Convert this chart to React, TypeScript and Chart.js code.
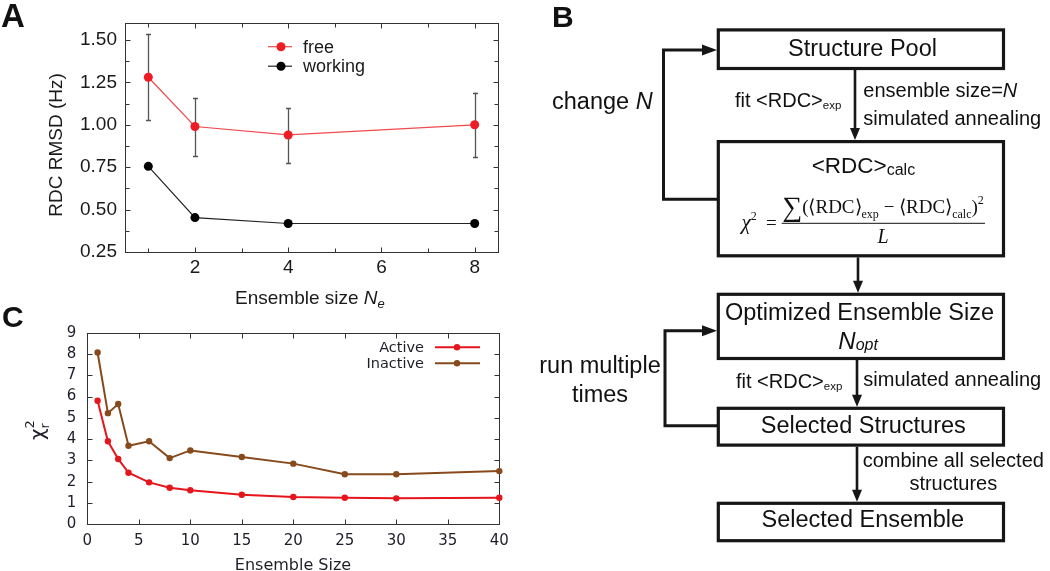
import React, { useEffect, useRef } from "react";
import { Chart, registerables } from "chart.js";

Chart.register(...registerables);

// ---------------- Panel A data ----------------
const ensembleSizeA = [1, 2, 4, 8];
const freeRmsd = [1.28, 0.99, 0.94, 1.0];
const freeErrLow = [1.03, 0.815, 0.775, 0.81];
const freeErrHigh = [1.535, 1.155, 1.1, 1.19];
const workingRmsd = [0.755, 0.453, 0.418, 0.418];
const xTicksA = [2, 4, 6, 8];
const xMinorA = [1, 3, 5, 7];
const yTicksA = [0.25, 0.5, 0.75, 1.0, 1.25, 1.5];
const yMinorA = [0.375, 0.625, 0.875, 1.125, 1.375];

// ---------------- Panel C data ----------------
const ensembleSizeC = [1, 2, 3, 4, 6, 8, 10, 15, 20, 25, 30, 40];
const activeChi2 = [5.8, 3.9, 3.07, 2.42, 1.97, 1.72, 1.6, 1.39, 1.28, 1.25, 1.22, 1.25];
const inactiveChi2 = [8.07, 5.22, 5.65, 3.69, 3.9, 3.11, 3.47, 3.16, 2.85, 2.35, 2.35, 2.5];
const xTicksC = [0, 5, 10, 15, 20, 25, 30, 35, 40];
const yTicksC = [0, 1, 2, 3, 4, 5, 6, 7, 8, 9];

const SANS = "'Liberation Sans', Arial, Helvetica, sans-serif";
const SERIF = "'Liberation Serif', 'Times New Roman', serif";
const DV = "'DejaVu Sans', Verdana, sans-serif";
const INK = "#161616";

const snap = (v: number) => Math.round(v) + 0.5;

const frameTicks = {
  id: "frameTicks",
  beforeDatasetsDraw(chart: any, _a: any, o: any) {
    if (!o || !o.xMajor) return;
    const { ctx, chartArea: ca, scales } = chart;
    const xs = scales.x, ys = scales.y;
    const l = snap(ca.left), r = snap(ca.right), t = snap(ca.top), b = snap(ca.bottom);
    ctx.save();
    ctx.strokeStyle = o.color;
    ctx.lineWidth = o.lineWidth;
    ctx.strokeRect(l, t, r - l, b - t);
    const tx = (vals: number[], len: number) => {
      for (const v of vals) {
        const p = snap(xs.getPixelForValue(v));
        ctx.beginPath();
        ctx.moveTo(p, b); ctx.lineTo(p, b - len);
        ctx.moveTo(p, t); ctx.lineTo(p, t + len);
        ctx.stroke();
      }
    };
    const ty = (vals: number[], len: number) => {
      for (const v of vals) {
        const p = snap(ys.getPixelForValue(v));
        ctx.beginPath();
        ctx.moveTo(l, p); ctx.lineTo(l + len, p);
        ctx.moveTo(r, p); ctx.lineTo(r - len, p);
        ctx.stroke();
      }
    };
    tx(o.xMajor, o.majorLen); tx(o.xMinor || [], o.minorLen);
    ty(o.yMajor, o.majorLen); ty(o.yMinor || [], o.minorLen);
    ctx.restore();
  },
};

const errorBars = {
  id: "errorBars",
  beforeDatasetsDraw(chart: any, _a: any, o: any) {
    if (!o || !o.low) return;
    const { ctx } = chart;
    const ys = chart.scales.y;
    const meta = chart.getDatasetMeta(o.datasetIndex);
    ctx.save();
    ctx.strokeStyle = o.color;
    ctx.lineWidth = o.lineWidth;
    meta.data.forEach((pt: any, i: number) => {
      const x = snap(pt.x);
      const y1 = ys.getPixelForValue(o.low[i]);
      const y2 = ys.getPixelForValue(o.high[i]);
      ctx.beginPath();
      ctx.moveTo(x, y1); ctx.lineTo(x, y2);
      ctx.moveTo(x - o.cap, snap(y1)); ctx.lineTo(x + o.cap, snap(y1));
      ctx.moveTo(x - o.cap, snap(y2)); ctx.lineTo(x + o.cap, snap(y2));
      ctx.stroke();
    });
    ctx.restore();
  },
};

const innerLegend = {
  id: "innerLegend",
  afterDatasetsDraw(chart: any, _a: any, o: any) {
    if (!o || o.y === undefined) return;
    const { ctx } = chart;
    chart.data.datasets.forEach((ds: any, i: number) => {
      const y = o.y + i * o.dy;
      ctx.save();
      ctx.strokeStyle = ds.borderColor;
      ctx.lineWidth = ds.borderWidth;
      ctx.beginPath();
      ctx.moveTo(o.lineX0, y); ctx.lineTo(o.lineX1, y);
      ctx.stroke();
      ctx.fillStyle = ds.pointBackgroundColor;
      ctx.beginPath();
      ctx.arc(o.dotX, y, ds.pointRadius, 0, Math.PI * 2);
      ctx.fill();
      ctx.fillStyle = o.color;
      ctx.font = o.font;
      ctx.textAlign = o.textAlign;
      ctx.textBaseline = "middle";
      ctx.fillText(ds.label, o.textX, y + 1);
      ctx.restore();
    });
  },
};

function makeAxis(opts: any) {
  return {
    type: "linear",
    min: opts.min,
    max: opts.max,
    afterBuildTicks: (s: any) => {
      s.ticks = opts.ticks.map((v: number) => ({ value: v }));
    },
    afterFit: (s: any) => {
      if (opts.width !== undefined) s.width = opts.width;
      if (opts.height !== undefined) s.height = opts.height;
    },
    grid: { display: false, drawTicks: false },
    border: { display: false },
    ticks: {
      autoSkip: false,
      maxRotation: 0,
      padding: opts.padding,
      color: opts.color,
      font: { family: opts.family, size: opts.size },
      callback: opts.format,
    },
  };
}

export default function App() {
  const refA = useRef<HTMLCanvasElement>(null);
  const refC = useRef<HTMLCanvasElement>(null);

  useEffect(() => {
    const chartA = new Chart(refA.current as HTMLCanvasElement, {
      type: "line",
      data: {
        datasets: [
          {
            label: "free",
            data: ensembleSizeA.map((x, i) => ({ x, y: freeRmsd[i] })),
            borderColor: "#f04a4f",
            borderWidth: 1.2,
            pointRadius: 4.5,
            pointBackgroundColor: "#ee1c25",
            pointBorderWidth: 0,
            clip: false,
          },
          {
            label: "working",
            data: ensembleSizeA.map((x, i) => ({ x, y: workingRmsd[i] })),
            borderColor: "#222222",
            borderWidth: 1.2,
            pointRadius: 4.5,
            pointBackgroundColor: "#000000",
            pointBorderWidth: 0,
            clip: false,
          },
        ],
      },
      options: {
        responsive: false,
        animation: false,
        layout: { padding: { left: 0, top: 23, right: 22, bottom: 0 }, autoPadding: false },
        plugins: {
          legend: { display: false },
          tooltip: { enabled: false },
          frameTicks: { xMajor: xTicksA, xMinor: xMinorA, yMajor: yTicksA, yMinor: yMinorA, color: "#333", lineWidth: 1, majorLen: 5, minorLen: 4 },
          errorBars: { datasetIndex: 0, low: freeErrLow, high: freeErrHigh, color: "#555", lineWidth: 1.3, cap: 2.5 },
          innerLegend: { y: 46.7, dy: 19.5, lineX0: 268, lineX1: 292, dotX: 281, textX: 303, textAlign: "left", font: `18px ${SANS}`, color: "#1a1a1a" },
        } as any,
        scales: {
          x: makeAxis({ min: 0.5, max: 8.5, ticks: xTicksA, height: 38, padding: 4, color: "#1a1a1a", family: SANS, size: 19, format: (v: any) => String(v) }),
          y: makeAxis({ min: 0.25, max: 1.6, ticks: yTicksA, width: 125, padding: 8, color: "#1a1a1a", family: SANS, size: 19, format: (v: any) => Number(v).toFixed(2) }),
        } as any,
      },
      plugins: [frameTicks, errorBars, innerLegend],
    } as any);

    const chartC = new Chart(refC.current as HTMLCanvasElement, {
      type: "line",
      data: {
        datasets: [
          {
            label: "Active",
            data: ensembleSizeC.map((x, i) => ({ x, y: activeChi2[i] })),
            borderColor: "#e5151c",
            borderWidth: 2,
            pointRadius: 3.2,
            pointBackgroundColor: "#e5151c",
            pointBorderWidth: 0,
            clip: false,
          },
          {
            label: "Inactive",
            data: ensembleSizeC.map((x, i) => ({ x, y: inactiveChi2[i] })),
            borderColor: "#874a1c",
            borderWidth: 2,
            pointRadius: 3.2,
            pointBackgroundColor: "#874a1c",
            pointBorderWidth: 0,
            clip: false,
          },
        ],
      },
      options: {
        responsive: false,
        animation: false,
        layout: { padding: { left: 0, top: 42.7, right: 20.7, bottom: 0 }, autoPadding: false },
        plugins: {
          legend: { display: false },
          tooltip: { enabled: false },
          frameTicks: { xMajor: xTicksC, yMajor: yTicksC, color: "#333", lineWidth: 1, majorLen: 5, minorLen: 3 },
          innerLegend: { y: 57.3, dy: 16, lineX0: 435, lineX1: 480, dotX: 457, textX: 424, textAlign: "right", font: `14.5px ${DV}`, color: "#1e1e2a" },
        } as any,
        scales: {
          x: makeAxis({ min: 0, max: 40, ticks: xTicksC, height: 46.7, padding: 8, color: "#1e1e2a", family: DV, size: 15, format: (v: any) => String(v) }),
          y: makeAxis({ min: 0, max: 9, ticks: yTicksC, width: 87.3, padding: 11, color: "#1e1e2a", family: DV, size: 15, format: (v: any) => String(v) }),
        } as any,
      },
      plugins: [frameTicks, innerLegend],
    } as any);

    return () => {
      chartA.destroy();
      chartC.destroy();
    };
  }, []);

  const vArrow = (x: number, y0: number, tip: number) => (
    <g key={`a${x}-${y0}`}>
      <line x1={x} y1={y0} x2={x} y2={tip - 8} stroke={INK} strokeWidth={2.6} />
      <polygon points={`${x},${tip} ${x - 5},${tip - 12} ${x + 5},${tip - 12}`} fill={INK} />
    </g>
  );

  return (
    <div style={{ position: "absolute", left: 0, top: 0, width: 1050, height: 571, background: "#fff", overflow: "hidden" }}>
      <canvas ref={refA} width={520} height={290} style={{ position: "absolute", left: 0, top: 0 }} />
      <canvas ref={refC} width={520} height={281} style={{ position: "absolute", left: 0, top: 290 }} />
      <svg width={1050} height={571} style={{ position: "absolute", left: 0, top: 0 }}>
        {/* Panel letters */}
        <text x={1} y={26.7} fontFamily={SANS} fontWeight="bold" fontSize={33} fill="#111">A</text>
        <text x={552} y={26.7} fontFamily={SANS} fontWeight="bold" fontSize={30} fill="#111">B</text>
        <text x={2} y={326.7} fontFamily={SANS} fontWeight="bold" fontSize={30} fill="#111">C</text>

        {/* Panel A axis titles */}
        <text transform="translate(62,145) rotate(-90)" textAnchor="middle" fontFamily={SANS} fontSize={19} fill="#1a1a1a">RDC RMSD (Hz)</text>
        <text x={235} y={304} fontFamily={SANS} fontSize={19} fill="#1a1a1a">
          Ensemble size <tspan fontStyle="italic">N</tspan><tspan fontStyle="italic" fontSize={13} dy={4}>e</tspan>
        </text>

        {/* Panel C axis titles */}
        <text transform="translate(44,440) rotate(-90)" fontFamily={DV} fontSize={20} fill="#1e1e2a">
          χ<tspan fontSize={13} dy={-10}>2</tspan><tspan fontSize={13} dx={-8.3} dy={15}>r</tspan>
        </text>
        <text x={293} y={570} textAnchor="middle" fontFamily={DV} fontSize={16} fill="#1e1e2a">Ensemble Size</text>

        {/* Panel B flowchart */}
        <g stroke={INK} fill="none" strokeWidth={3.2}>
          <rect x={718.3} y={29.9} width={285.2} height={38.6} />
          <rect x={718.3} y={141.6} width={285.2} height={114.2} />
          <rect x={718.3} y={294.3} width={285.2} height={64.2} />
          <rect x={718.3} y={408.3} width={285.2} height={36.8} />
          <rect x={718.3} y={503.3} width={285.2} height={37.4} />
        </g>
        <g stroke={INK} fill="none" strokeWidth={3}>
          <polyline points="717,199.3 663.5,199.3 663.5,50 708,50" />
          <polyline points="717,425.7 665,425.7 665,330.7 708,330.7" />
        </g>
        <polygon points="717,50 702,44.5 702,55.5" fill={INK} />
        <polygon points="717,330.7 702,325.2 702,336.2" fill={INK} />
        {vArrow(855, 70, 140)}
        {vArrow(858, 257.4, 292.7)}
        {vArrow(857, 360, 406.7)}
        {vArrow(857, 446.7, 501.7)}

        <g fontFamily={SANS} fill="#111">
          <text x={862.5} y={55.7} textAnchor="middle" fontSize={23.5}>Structure Pool</text>
          <text x={552} y={108.5} fontSize={23.5}>change <tspan fontStyle="italic">N</tspan></text>
          <text x={735} y={106.5} fontSize={20}>fit &lt;RDC&gt;<tspan fontSize={11.5} dy={2}>exp</tspan></text>
          <text x={863.3} y={96.7} fontSize={20}>ensemble size=<tspan fontStyle="italic">N</tspan></text>
          <text x={863.3} y={125} fontSize={20}>simulated annealing</text>
          <text x={811.7} y={173.3} fontSize={22.5}>&lt;RDC&gt;<tspan fontSize={16} dy={1.5}>calc</tspan></text>

          <text x={859.5} y={320} textAnchor="middle" fontSize={23.5}>Optimized Ensemble Size</text>
          <text x={838.3} y={349} fontSize={24} fontStyle="italic">N<tspan fontSize={16} dy={1}>opt</tspan></text>
          <text x={600} y={373.3} textAnchor="middle" fontSize={23.5}>run multiple</text>
          <text x={600} y={401.7} textAnchor="middle" fontSize={23.5}>times</text>
          <text x={736} y={388.3} fontSize={20}>fit &lt;RDC&gt;<tspan fontSize={11.5} dy={2}>exp</tspan></text>
          <text x={863.3} y={386} fontSize={20}>simulated annealing</text>
          <text x={863.3} y={433.3} textAnchor="middle" fontSize={23.5}>Selected Structures</text>
          <text x={953.3} y={466.7} textAnchor="middle" fontSize={20}>combine all selected</text>
          <text x={953.3} y={490} textAnchor="middle" fontSize={20}>structures</text>
          <text x={862.8} y={527.3} textAnchor="middle" fontSize={23.5}>Selected Ensemble</text>
        </g>

        {/* Formula */}
        <g fontFamily={SERIF} fill="#111">
          <text x={741.5} y={229} fontSize={21} fontStyle="italic">χ<tspan fontSize={12} fontStyle="normal" dy={-9}>2</tspan></text>
          <text x={766} y={229} fontSize={19}>=</text>
          <line x1={781.7} y1={223.3} x2={985} y2={223.3} stroke="#111" strokeWidth={1} />
          <text x={883} y={213} textAnchor="middle" fontSize={19}>
            <tspan fontSize={28} dy={3}>∑</tspan>
            <tspan dy={-3}>(⟨RDC⟩</tspan>
            <tspan fontSize={12} dy={5}>exp</tspan>
            <tspan dy={-5}> − ⟨RDC⟩</tspan>
            <tspan fontSize={12} dy={5}>calc</tspan>
            <tspan dy={-5}>)</tspan>
            <tspan fontSize={12} dy={-9}>2</tspan>
          </text>
          <text x={883} y={243.3} textAnchor="middle" fontSize={20} fontStyle="italic">L</text>
        </g>
      </svg>
    </div>
  );
}
